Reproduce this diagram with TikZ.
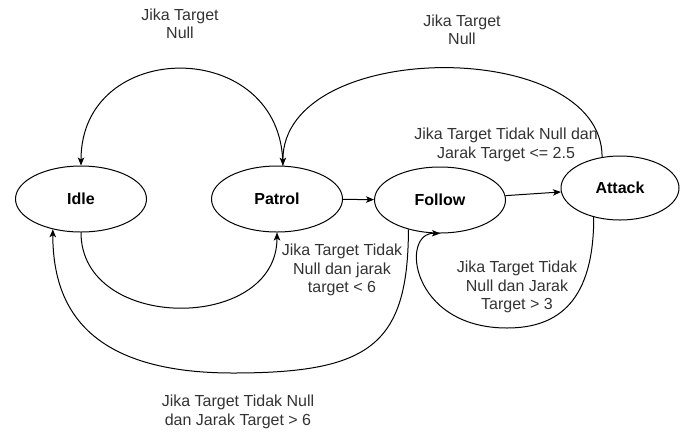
\documentclass[tikz,border=0pt]{standalone}
\usepackage{fontspec}
\setmainfont{Liberation Sans}
\usetikzlibrary{arrows.meta, shapes.geometric}
\definecolor{labelgray}{RGB}{51,51,51}

\begin{document}
\begin{tikzpicture}[
  x=1pt, y=-1pt,
  stnode/.style={draw, ellipse, line width=1pt, minimum width=131pt,
                 minimum height=66pt, inner sep=0pt,
                 font=\fontsize{16}{18.5}\selectfont\bfseries},
  lbl/.style={align=center, text=labelgray, inner sep=0pt,
              font=\fontsize{16}{18.5}\selectfont},
  arr/.style={-{Stealth[length=8pt, width=6.5pt, inset=2pt]}, line width=1pt}
]
\useasboundingbox (0,0) rectangle (680,432);

% states
\node[stnode] (idle) at (81,199) {Idle};
\node[stnode] (patrol) at (277,199) {Patrol};
\node[stnode] (follow) at (440,200) {Follow};
\node[stnode, minimum width=118pt, minimum height=64pt] (attack) at (620,188) {Attack};

% transitions
\draw[arr] (patrol.80) .. controls +(0,-129) and +(0,-129) .. (idle.north);
\draw[arr] (attack.120) .. controls +(0,-120) and +(0,-128) .. (patrol.80);
\draw[arr] (patrol) -- (follow);
\draw[arr] (follow) -- (attack);
\draw[arr] (idle.south) .. controls +(0,100) and +(0,100) .. (patrol.south);
\draw[arr] (follow.223) .. controls (408,345) and (370,373) .. (233,373)
  .. controls (80,373) and (53,300) .. (idle.227);
\draw[arr] (attack.228) .. controls +(0,82) and (560,328) .. (507,328)
  .. controls (410,328) and (400,232) .. (follow.south);

% labels
\node[lbl] (l1) at (180,24) {Jika Target\\Null};
\node[lbl] (l2) at (462,30) {Jika Target\\Null};
\node[lbl] (l3) at (506,145) {Jika Target Tidak Null dan\\Jarak Target <= 2.5};
\node[lbl] (l4) at (342,270) {Jika Target Tidak\\Null dan jarak\\target < 6};
\node[lbl] (l5) at (238,412) {Jika Target Tidak Null\\dan Jarak Target > 6};
\node[lbl] (l6) at (517,287) {Jika Target Tidak\\Null dan Jarak\\Target > 3};
\end{tikzpicture}
\end{document}
